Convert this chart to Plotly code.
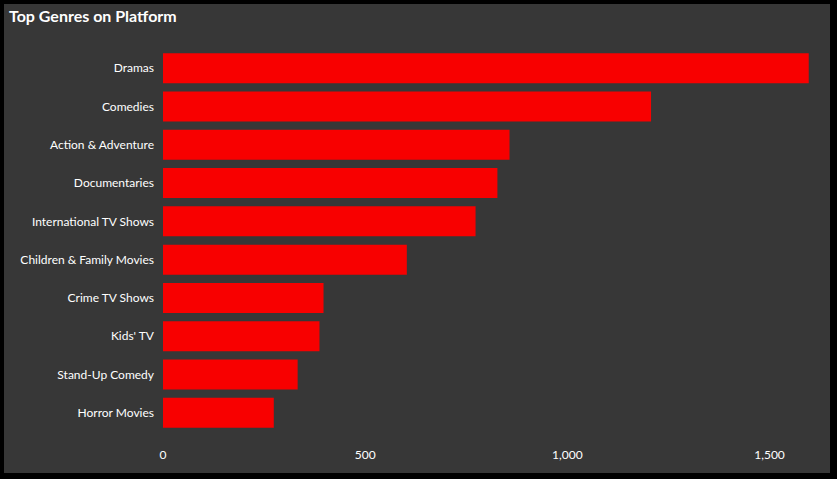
import plotly.graph_objects as go

# genre counts
genres = ["Dramas", "Comedies", "Action & Adventure", "Documentaries",
          "International TV Shows", "Children & Family Movies", "Crime TV Shows",
          "Kids' TV", "Stand-Up Comedy", "Horror Movies"]
counts = [1597, 1207, 857, 827, 773, 603, 397, 387, 333, 274]
tick_vals = [0, 500, 1000, 1500]
tick_text = ["0", "500", "1,000", "1,500"]

W, H = 837, 479
ml, mr, mt, mb = 163, 23, 49, 47
pw, ph = W - ml - mr, H - mt - mb

fig = go.Figure()
fig.add_trace(go.Bar(
    x=counts, y=genres, orientation="h",
    marker=dict(color="#F80000", line=dict(width=0)),
    hoverinfo="x+y",
))

# dark card with black frame (thicker on right / bottom)
fig.add_shape(type="rect", xref="paper", yref="paper", layer="below",
              x0=(4 - ml) / pw, x1=(830 - ml) / pw,
              y0=(H - mb - 473) / ph, y1=(H - mb - 4) / ph,
              fillcolor="#373737", line=dict(width=0))

fig.update_layout(
    width=W, height=H,
    margin=dict(l=ml, r=mr, t=mt, b=mb),
    paper_bgcolor="#000000",
    plot_bgcolor="rgba(0,0,0,0)",
    bargap=0.217,
    showlegend=False,
    font=dict(family="Lato, Noto Sans, sans-serif", size=12, color="#FFFFFF"),
    title=dict(text="<b>Top Genres on Platform</b>", xref="container", yref="container",
               x=9 / W, xanchor="left", y=1 - 16 / H, yanchor="middle",
               font=dict(family="Lato, sans-serif", size=16, color="#FFFFFF")),
)
fig.update_xaxes(range=[0, 1610], tickvals=tick_vals, ticktext=tick_text,
                 showgrid=False, zeroline=False, showline=False,
                 ticklabelstandoff=14, tickfont=dict(size=12, color="#FFFFFF"))
fig.update_yaxes(categoryorder="array", categoryarray=genres[::-1],
                 showgrid=False, zeroline=False, showline=False,
                 ticklabelstandoff=8, tickfont=dict(size=12, color="#FFFFFF"))

# page body has a default 8px margin, drop it so the card sits at 0,0
fig.write_html("out.html", config={"displayModeBar": False},
               post_script="document.body.style.margin='0';")
